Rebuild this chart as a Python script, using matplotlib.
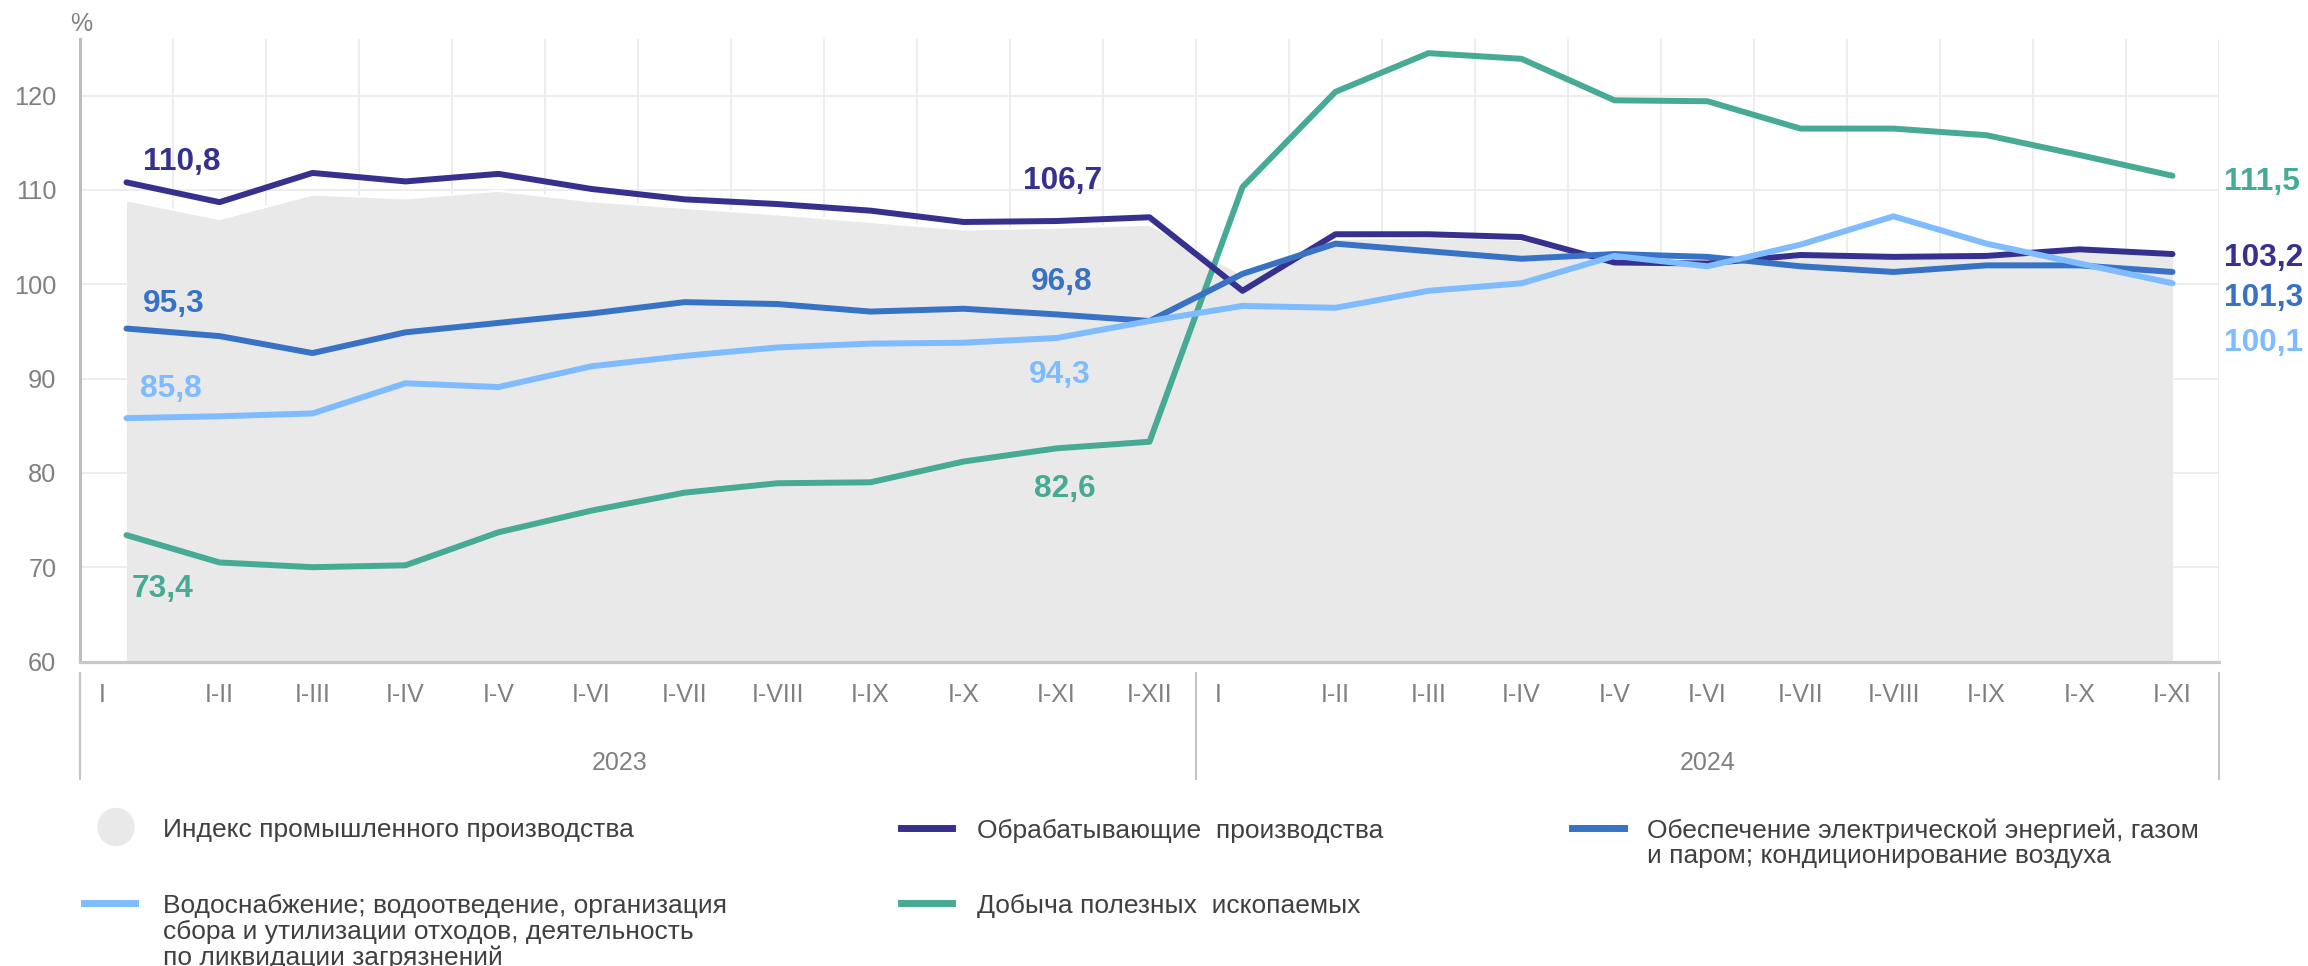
import numpy as np
import matplotlib
matplotlib.use('Agg')
import matplotlib.pyplot as plt
from matplotlib.lines import Line2D
from matplotlib.patches import Ellipse
import matplotlib.transforms as mtransforms

plt.rcParams['font.family'] = ['Liberation Sans', 'DejaVu Sans']

# ---------------- data ----------------
periods = ['I', 'I-II', 'I-III', 'I-IV', 'I-V', 'I-VI', 'I-VII', 'I-VIII', 'I-IX', 'I-X', 'I-XI', 'I-XII',
           'I', 'I-II', 'I-III', 'I-IV', 'I-V', 'I-VI', 'I-VII', 'I-VIII', 'I-IX', 'I-X', 'I-XI']
years = ['2023', '2024']
year_label_pos = [5.3, 17.0]
year_separators = [-0.5, 11.5, 22.5]

industry_index = [108.9, 106.9, 109.5, 109.1, 109.9, 108.8, 108.1, 107.4, 106.6, 105.8, 106.0, 106.3,
                  101.0, 104.8, 105.0, 104.7, 102.1, 102.0, 102.9, 102.7, 102.8, 103.5, 103.0]
manufacturing = [110.8, 108.7, 111.8, 110.9, 111.7, 110.1, 109.0, 108.5, 107.8, 106.6, 106.7, 107.1,
                 99.3, 105.3, 105.3, 105.0, 102.3, 102.2, 103.1, 102.9, 103.0, 103.7, 103.2]
electricity = [95.3, 94.5, 92.7, 94.9, 95.9, 96.9, 98.1, 97.9, 97.1, 97.4, 96.8, 96.1,
               101.1, 104.3, 103.5, 102.7, 103.2, 102.9, 101.9, 101.3, 102.0, 102.0, 101.3]
water = [85.8, 86.0, 86.3, 89.5, 89.1, 91.3, 92.4, 93.3, 93.7, 93.8, 94.3, 96.1,
         97.7, 97.5, 99.3, 100.1, 103.0, 101.9, 104.2, 107.2, 104.3, 102.2, 100.1]
mining = [73.4, 70.5, 70.0, 70.2, 73.7, 76.0, 77.9, 78.9, 79.0, 81.2, 82.6, 83.3,
          110.3, 120.4, 124.5, 123.9, 119.5, 119.4, 116.5, 116.5, 115.8, 113.7, 111.5]

legend_labels = ['Индекс промышленного производства',
                 'Обрабатывающие  производства',
                 'Обеспечение электрической энергией, газом\nи паром; кондиционирование воздуха',
                 'Водоснабжение; водоотведение, организация\nсбора и утилизации отходов, деятельность\nпо ликвидации загрязнений',
                 'Добыча полезных  ископаемых']

# ---------------- style ----------------
W, H = 2308, 966
C_AREA = '#e9e9e9'
C_NAVY = '#36318f'
C_BLUE = '#3872c4'
C_LIGHT = '#7fbbff'
C_TEAL = '#47aa94'
C_GRID = '#ececec'
C_TICK = '#808080'
C_TEXT = '#404040'

fig = plt.figure(figsize=(W / 100, H / 100), dpi=100)
ax_left, ax_right, ax_top, ax_bottom = 80, 2219, 39, 661.5
ax = fig.add_axes([ax_left / W, 1 - ax_bottom / H, (ax_right - ax_left) / W, (ax_bottom - ax_top) / H])

x = np.arange(len(periods))
ax.set_xlim(-0.5, len(periods) - 0.5)
ax.set_ylim(60, 126)

# grid
ax.set_axisbelow(True)
ax.set_yticks(np.arange(60, 121, 10))
ax.set_xticks(np.arange(-0.5, len(periods), 1), minor=True)
ax.set_xticks([])
ax.grid(axis='y', which='major', color=C_GRID, lw=1.3)
ax.grid(axis='x', which='minor', color=C_GRID, lw=1.3)
ax.tick_params(axis='both', which='both', length=0)
ax.tick_params(axis='y', labelsize=18.3, labelcolor=C_TICK, pad=17)

for s in ['top', 'right']:
    ax.spines[s].set_visible(False)
ax.spines['left'].set_color('#bdbdbd')
ax.spines['left'].set_linewidth(2.2)
ax.spines['bottom'].set_color('#c8c8c8')
ax.spines['bottom'].set_linewidth(2.3)

# area
ax.fill_between(x, 60, industry_index, color=C_AREA, lw=0, zorder=1)
ax.plot(x, industry_index, color='white', lw=1.5, zorder=1.1)

# lines
lw = 4.3
ax.plot(x, mining, color=C_TEAL, lw=lw, zorder=2, solid_capstyle='round')
ax.plot(x, manufacturing, color=C_NAVY, lw=lw, zorder=3, solid_capstyle='round')
ax.plot(x, electricity, color=C_BLUE, lw=lw, zorder=4, solid_capstyle='round')
ax.plot(x, water, color=C_LIGHT, lw=lw, zorder=5, solid_capstyle='round')

# value labels: (series, index, dx px, dy px (up), ha)
series = {'m': (manufacturing, C_NAVY), 'e': (electricity, C_BLUE),
          'w': (water, C_LIGHT), 't': (mining, C_TEAL)}
label_specs = [
    ('m', 0, 55, 23.5, 'center'), ('e', 0, 47, 27.6, 'center'),
    ('w', 0, 44, 33, 'center'), ('t', 0, 36, -50, 'center'),
    ('m', 10, 6, 44, 'center'), ('e', 10, 5, 35.5, 'center'),
    ('w', 10, 3, -34, 'center'), ('t', 10, 8, -37, 'center'),
    ('t', 22, 52, -3, 'left'), ('m', 22, 52, 0, 'left'),
    ('e', 22, 52, -23, 'left'), ('w', 22, 52, -56, 'left'),
]
for key, i, dx, dy, ha in label_specs:
    vals, col = series[key]
    ax.annotate(f'{vals[i]:.1f}'.replace('.', ','), xy=(x[i], vals[i]), xytext=(dx, dy),
                textcoords='offset pixels', ha=ha, va='center_baseline',
                fontsize=22.8, fontweight='bold', color=col, annotation_clip=False, zorder=6)

# x tick labels (drawn as text)
trans = mtransforms.blended_transform_factory(ax.transData, ax.transAxes)
ax_h = ax_bottom - ax_top
tick_y = -(693 - ax_bottom) / ax_h
for i, lab in enumerate(periods):
    off = -0.26 if lab == 'I' else 0.0
    ax.text(x[i] + off, tick_y, lab, transform=trans, ha='center', va='center_baseline',
            fontsize=18, color=C_TICK)

# year separators and labels
sep_y0 = -(673 - ax_bottom) / ax_h
sep_y1 = -(779 - ax_bottom) / ax_h
for sx in year_separators:
    ax.plot([sx, sx], [sep_y0, sep_y1], transform=trans, color='#c4c4c4', lw=1.5, clip_on=False)
year_y = -(760 - ax_bottom) / ax_h
for pos, yr in zip(year_label_pos, years):
    ax.text(pos, year_y, yr, transform=trans, ha='center', va='center_baseline', fontsize=18, color=C_TICK)

# percent sign
fig.text(81 / W, 1 - 21.7 / H, '%', ha='center', va='center_baseline', fontsize=18, color=C_TICK)

# legend (manual)
def fx(px):
    return px / W

def fy(py):
    return 1 - py / H

fig.add_artist(Ellipse((fx(116), fy(827)), 36 / W, 37 / H, color=C_AREA, transform=fig.transFigure))
legend_marks = [(None, 163, 828),
                ((901, 952, C_NAVY), 977, 828),
                ((1572, 1624, C_BLUE), 1647, 828),
                ((84, 135, C_LIGHT), 163, 903),
                ((901, 952, C_TEAL), 977, 903)]
line_step = 26
for (mark, tx, ty), lab in zip(legend_marks, legend_labels):
    if mark is not None:
        x0, x1, col = mark
        fig.add_artist(Line2D([fx(x0), fx(x1)], [fy(ty), fy(ty)], color=col, lw=5,
                              transform=fig.transFigure))
    for k, line in enumerate(lab.split('\n')):
        fig.text(fx(tx), fy(ty + k * line_step), line, ha='left', va='center_baseline',
                 fontsize=19.0, color=C_TEXT)

fig.savefig('out.png', dpi=100)
